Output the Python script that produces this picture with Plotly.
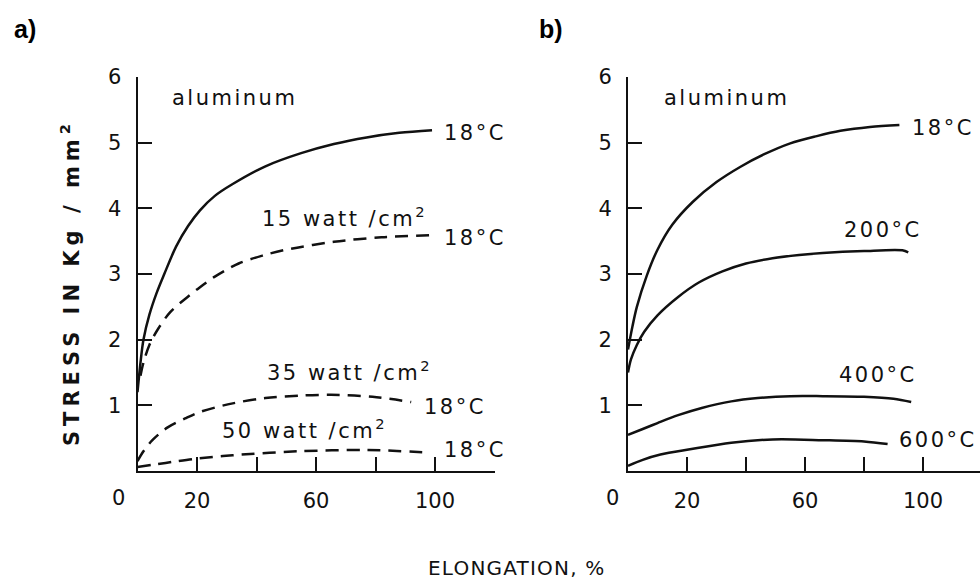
import plotly.graph_objects as go

# ---------------- data ----------------
# panel a) aluminum, 18 degC, different irradiation
a_18_x = [0, 1, 2, 4, 6.5, 9, 13, 17, 21, 26, 32, 43, 55, 66, 77, 88, 99]
a_18_y = [1.2, 1.65, 2.0, 2.38, 2.72, 3.0, 3.42, 3.73, 3.97, 4.19, 4.37, 4.64, 4.84, 4.98, 5.08, 5.15, 5.19]

a_15w_x = [1, 2, 4, 7, 11, 16, 21, 26, 34, 42, 50, 66, 82, 98]
a_15w_y = [1.45, 1.65, 1.92, 2.17, 2.42, 2.62, 2.8, 2.96, 3.16, 3.28, 3.37, 3.49, 3.56, 3.59]

a_35w_x = [0, 2, 5, 10, 16, 21, 32, 43, 55, 65, 79, 92]
a_35w_y = [0.15, 0.3, 0.47, 0.66, 0.8, 0.9, 1.03, 1.11, 1.15, 1.16, 1.13, 1.05]

a_50w_x = [0, 6, 12, 20, 32, 54, 77, 98]
a_50w_y = [0.06, 0.1, 0.14, 0.19, 0.24, 0.3, 0.32, 0.28]

# panel b) aluminum at different temperatures
b_18_x = [0, 1.5, 3, 6.4, 10, 15, 22, 30, 38, 46, 55, 64, 72, 82, 92]
b_18_y = [1.85, 2.2, 2.5, 2.98, 3.37, 3.75, 4.1, 4.4, 4.63, 4.82, 4.99, 5.1, 5.18, 5.24, 5.27]

b_200_x = [0, 1, 3, 5.5, 10, 17, 24, 32, 40, 49, 58, 66, 80, 93, 95]
b_200_y = [1.5, 1.7, 1.92, 2.12, 2.37, 2.65, 2.87, 3.04, 3.16, 3.24, 3.29, 3.32, 3.35, 3.36, 3.33]

b_400_x = [0, 5, 10, 17, 25, 35, 44, 55, 66, 80, 90, 96]
b_400_y = [0.55, 0.64, 0.73, 0.85, 0.96, 1.06, 1.11, 1.14, 1.14, 1.13, 1.1, 1.05]

b_600_x = [0, 5, 11, 21, 35, 49, 66, 80, 88]
b_600_y = [0.08, 0.17, 0.25, 0.33, 0.43, 0.48, 0.47, 0.45, 0.41]

x_tickvals = [20, 40, 60, 80, 100, 120]
x_ticktext = ["20", "", "60", "", "100", ""]
y_tickvals = [1, 2, 3, 4, 5, 6]
y_ticktext = ["1", "2", "3", "4", "5", "6"]

FONT = "DejaVu Sans"
INK = "#111111"
SOLID = dict(color=INK, width=2.5, shape="spline", smoothing=0.9)
DASH = dict(color=INK, width=2.5, shape="spline", smoothing=0.9, dash="13px,8px")


def ls(t, sp=2.5):
    return f'<span style="letter-spacing:{sp}px">{t}</span>'


fig = go.Figure()
for xs, ys, ln in [(a_18_x, a_18_y, SOLID), (a_15w_x, a_15w_y, DASH),
                   (a_35w_x, a_35w_y, DASH), (a_50w_x, a_50w_y, DASH)]:
    fig.add_trace(go.Scatter(x=xs, y=ys, mode="lines", line=ln,
                             xaxis="x", yaxis="y", showlegend=False, hoverinfo="skip"))
for xs, ys in [(b_18_x, b_18_y), (b_200_x, b_200_y), (b_400_x, b_400_y), (b_600_x, b_600_y)]:
    fig.add_trace(go.Scatter(x=xs, y=ys, mode="lines", line=SOLID,
                             xaxis="x2", yaxis="y2", showlegend=False, hoverinfo="skip"))

W, H = 980, 584
ax_common = dict(showline=True, linecolor=INK, linewidth=2, showgrid=False, zeroline=False,
                 ticks="inside", ticklen=14, tickwidth=2, tickcolor=INK, automargin=False,
                 tickfont=dict(family=FONT, size=21, color=INK), fixedrange=True)

y_dom = [1 - 471 / H, 1 - 77 / H]
fig.update_layout(
    template="none",
    width=W, height=H, margin=dict(l=0, r=0, t=0, b=0, pad=0), showlegend=False,
    paper_bgcolor="white", plot_bgcolor="white",
    xaxis=dict(domain=[137.5 / W, 494.5 / W], range=[0, 120], anchor="y",
               tickvals=x_tickvals, ticktext=x_ticktext, ticklabelstandoff=10, **ax_common),
    yaxis=dict(domain=y_dom, range=[0, 6], anchor="x",
               tickvals=y_tickvals, ticktext=y_ticktext, ticklabelstandoff=10, **ax_common),
    xaxis2=dict(domain=[628 / W, 1.0], range=[0, (W - 628) / 2.95], anchor="y2",
                tickvals=x_tickvals, ticktext=x_ticktext, ticklabelstandoff=10, **ax_common),
    yaxis2=dict(domain=y_dom, range=[0, 6], anchor="x2",
                tickvals=y_tickvals, ticktext=y_ticktext, ticklabelstandoff=10, **ax_common),
)

tf = dict(family=FONT, size=21, color=INK)
A = dict(showarrow=False, font=tf, yanchor="middle")
ann = []
# panel a labels
ann += [
    dict(x=10.9, y=5.68, xref="x", yref="y", text=ls("aluminum"), xanchor="left", **A),
    dict(x=102.5, y=5.15, xref="x", yref="y", text=ls("18°C"), xanchor="left", **A),
    dict(x=69.5, y=3.87, xref="x", yref="y", text=ls("15 watt /cm<sup>2</sup>"), xanchor="center", **A),
    dict(x=102.5, y=3.55, xref="x", yref="y", text=ls("18°C"), xanchor="left", **A),
    dict(x=71.3, y=1.52, xref="x", yref="y", text=ls("35 watt /cm<sup>2</sup>"), xanchor="center", **A),
    dict(x=95.5, y=0.98, xref="x", yref="y", text=ls("18°C"), xanchor="left", **A),
    dict(x=56.3, y=0.64, xref="x", yref="y", text=ls("50 watt /cm<sup>2</sup>"), xanchor="center", **A),
    dict(x=102.5, y=0.32, xref="x", yref="y", text=ls("18°C"), xanchor="left", **A),
]
# panel b labels
ann += [
    dict(x=11.5, y=5.68, xref="x2", yref="y2", text=ls("aluminum"), xanchor="left", **A),
    dict(x=95.6, y=5.22, xref="x2", yref="y2", text=ls("18°C"), xanchor="left", **A),
    dict(x=86.6, y=3.67, xref="x2", yref="y2", text=ls("200°C"), xanchor="center", **A),
    dict(x=84.7, y=1.46, xref="x2", yref="y2", text=ls("400°C"), xanchor="center", **A),
    dict(x=91.2, y=0.47, xref="x2", yref="y2", text=ls("600°C"), xanchor="left", **A),
]
# "0" tick labels (offset left of the axis, as in the reference)
ann += [
    dict(x=118 / W, y=1 - 498 / H, xref="paper", yref="paper", text="0", xanchor="center", **A),
    dict(x=612 / W, y=1 - 498 / H, xref="paper", yref="paper", text="0", xanchor="center", **A),
]
# panel letters and axis titles
ann += [
    dict(x=12 / W, y=1 - 29 / H, xref="paper", yref="paper", text="<b>a)</b>", xanchor="left",
         yanchor="middle", showarrow=False, font=dict(family="Liberation Sans", size=25, color="black")),
    dict(x=537 / W, y=1 - 29 / H, xref="paper", yref="paper", text="<b>b)</b>", xanchor="left",
         yanchor="middle", showarrow=False, font=dict(family="Liberation Sans", size=25, color="black")),
    dict(x=70 / W, y=1 - 283 / H, xref="paper", yref="paper", textangle=-90,
         text=ls("<b>STRESS IN Kg / mm<sup>2</sup></b>", 5), showarrow=False,
         xanchor="center", yanchor="middle",
         font=dict(family=FONT, size=21, color=INK)),
    dict(x=517 / W, y=1 - 568 / H, xref="paper", yref="paper",
         text=ls("ELONGATION, %", 1.2), showarrow=False, xanchor="center", yanchor="middle",
         font=dict(family=FONT, size=20, color=INK)),
]
fig.update_layout(annotations=ann)

fig.write_html("out.html")
